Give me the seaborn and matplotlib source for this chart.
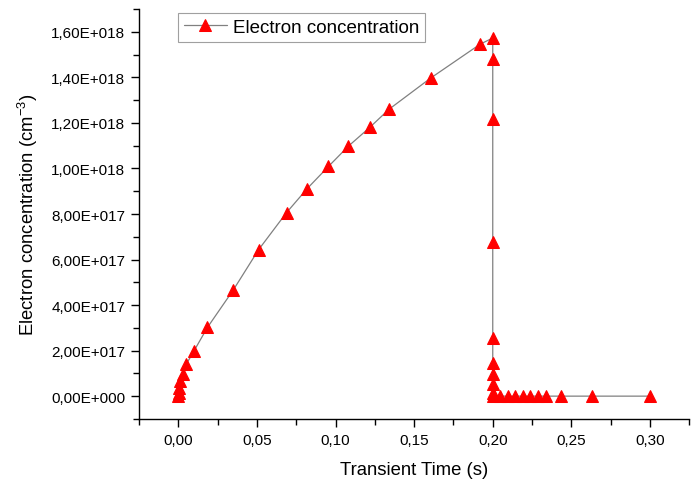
import numpy as np
import pandas as pd
import matplotlib
matplotlib.use("Agg")
import matplotlib.pyplot as plt
from matplotlib.ticker import FuncFormatter, MultipleLocator
import seaborn as sns

# Transient simulation: electron concentration vs time
time_s = [0.0, 0.0002, 0.0006, 0.0013, 0.0027, 0.005, 0.0098, 0.0185, 0.035,
          0.051, 0.0688, 0.082, 0.0955, 0.108, 0.1217, 0.134, 0.1605, 0.192,
          0.2, 0.2, 0.2, 0.2, 0.2, 0.2, 0.2, 0.2, 0.2, 0.2,
          0.2045, 0.2094, 0.2142, 0.2191, 0.224, 0.2289, 0.2338,
          0.2437, 0.2629, 0.3]
electron_conc = [0.0, 1.5e16, 3.7e16, 6.6e16, 9.6e16, 1.4e17, 1.97e17, 3.02e17,
                 4.67e17, 6.43e17, 8.06e17, 9.12e17, 1.009e18, 1.097e18,
                 1.18e18, 1.26e18, 1.397e18, 1.546e18,
                 1.573e18, 1.48e18, 1.216e18, 6.78e17, 2.54e17, 1.47e17,
                 9.6e16, 5.2e16, 1.5e16, 0.0,
                 0.0, 0.0, 0.0, 0.0, 0.0, 0.0, 0.0,
                 0.0, 0.0, 0.0]
series_label = "Electron concentration"

df = pd.DataFrame({"t": time_s, "n": electron_conc})

sns.set_theme(style="ticks")
plt.rcParams["font.family"] = ["Liberation Sans", "DejaVu Sans"]
plt.rcParams["text.color"] = "black"
plt.rcParams["axes.labelcolor"] = "black"
plt.rcParams["mathtext.fontset"] = "custom"
plt.rcParams["mathtext.rm"] = "Liberation Sans"
plt.rcParams["mathtext.it"] = "Liberation Sans"

fig = plt.figure(figsize=(6.99, 4.81), dpi=100)
ax = fig.add_axes([0.199, 0.127, 0.787, 0.852])

sns.lineplot(data=df, x="t", y="n", sort=False, estimator=None, ax=ax,
             color="#808080", linewidth=0.9, marker="^", markersize=9,
             markerfacecolor="red", markeredgecolor="red",
             label=series_label)

ax.set_xlim(-0.025, 0.325)
ax.set_ylim(-1e17, 1.7e18)
ax.xaxis.set_major_locator(MultipleLocator(0.05))
ax.xaxis.set_minor_locator(MultipleLocator(0.025))
ax.yaxis.set_major_locator(MultipleLocator(2e17))
ax.yaxis.set_minor_locator(MultipleLocator(1e17))


def sci_comma(v, pos):
    if abs(v) < 1e-9:
        return "0,00E+000"
    e = int(np.floor(np.log10(abs(v))))
    m = v / 10 ** e
    return f"{m:.2f}".replace(".", ",") + f"E+{e:03d}"


ax.xaxis.set_major_formatter(FuncFormatter(lambda v, p: f"{v:.2f}".replace(".", ",")))
ax.yaxis.set_major_formatter(FuncFormatter(sci_comma))

ax.tick_params(which="major", direction="out", length=6, width=1,
               labelsize=11, colors="black", pad=4)
ax.tick_params(which="minor", direction="out", length=4, width=1, colors="black")

sns.despine(ax=ax)
for s in ("left", "bottom"):
    ax.spines[s].set_color("black")
    ax.spines[s].set_linewidth(1)

ax.set_xlabel("Transient Time (s)", fontsize=13.3, labelpad=10)
ax.set_ylabel("Electron concentration (cm$^{-3}$)", fontsize=13.3, labelpad=8)

leg = ax.legend(loc="upper left", bbox_to_anchor=(0.071, 0.99), fontsize=13.5,
                frameon=True, fancybox=False, edgecolor="#888888",
                borderpad=0.3, handlelength=2.3, handletextpad=0.3,
                borderaxespad=0.0)
leg.get_frame().set_linewidth(0.8)

fig.savefig("out.png", dpi=100)
